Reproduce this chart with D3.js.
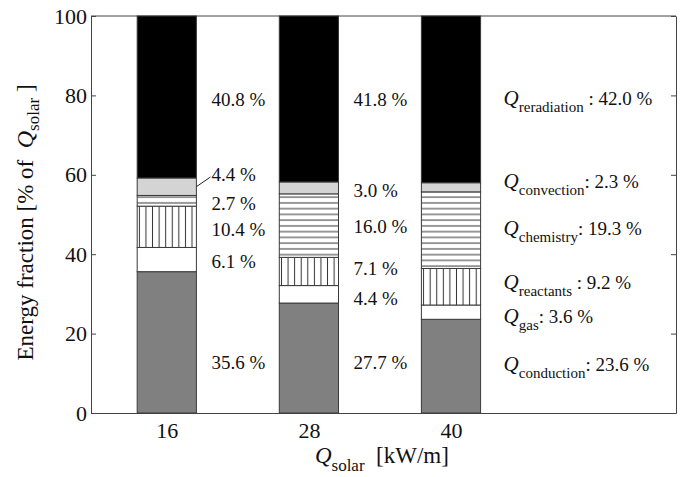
<!DOCTYPE html>
<html>
<head>
<meta charset="utf-8">
<script src="https://cdn.jsdelivr.net/npm/d3@7"></script>
<style>
  body { margin: 0; background: #fff; }
  text { font-family: "Liberation Serif", "Times New Roman", serif; fill: #111; }
</style>
</head>
<body>
<svg id="chart" width="686" height="477"></svg>
<script>
// Q_solar values (kW/m) and energy fractions (% of Q_solar), bottom to top
const qSolar = [16, 28, 40];
const keys = ["conduction", "gas", "reactants", "chemistry", "convection", "reradiation"];
const conduction = [35.6, 27.7, 23.6];
const gas = [6.1, 4.4, 3.6];
const reactants = [10.4, 7.1, 9.2];
const chemistry = [2.7, 16.0, 19.3];
const convection = [4.4, 3.0, 2.3];
const reradiation = [40.8, 41.8, 42.0];
const yTicks = [0, 20, 40, 60, 80, 100];
const xTicks = [16, 28, 40];

// level (in % of Q_solar) at which each label is written, per bar, same order as keys
const labelLevels = [
  [12.8, 38.3, 46.3, 52.9, 60.2, 79.1],
  [12.8, 29.0, 36.5, 46.9, 56.2, 79.1],
  [12.3, 24.4, 33.0, 46.6, 58.4, 79.3]
];

const series = { conduction, gas, reactants, chemistry, convection, reradiation };
const rows = qSolar.map((q, i) => {
  const r = { q, i };
  keys.forEach(k => r[k] = series[k][i]);
  return r;
});

const svg = d3.select("#chart");
const margin = { top: 16, right: 10, bottom: 64, left: 91 };
const W = 686, H = 477;
const plotW = W - margin.left - margin.right;
const plotH = H - margin.top - margin.bottom;

const x = d3.scaleLinear().domain([9.6, 59]).range([0, plotW]);
const y = d3.scaleLinear().domain([0, 100]).range([plotH, 0]);
const barW = x(21) - x(16);

const g = svg.append("g").attr("transform", `translate(${margin.left},${margin.top})`);

const fills = {
  conduction: "#808080",
  gas: "#ffffff",
  convection: "#d4d4d4",
  reradiation: "#000000"
};

// hatch patterns, one per bar so the lines line up with the bar edges
const defs = svg.append("defs");
rows.forEach(r => {
  const left = margin.left + x(r.q) - barW / 2;
  const vp = defs.append("pattern")
    .attr("id", "vhatch" + r.i)
    .attr("patternUnits", "userSpaceOnUse")
    .attr("x", left).attr("y", 0)
    .attr("width", barW / 9).attr("height", 10);
  vp.append("rect").attr("width", barW / 9).attr("height", 10).attr("fill", "#fff");
  vp.append("line")
    .attr("x1", barW / 18).attr("x2", barW / 18)
    .attr("y1", 0).attr("y2", 10)
    .attr("stroke", "#333").attr("stroke-width", 1);
});
const hp = defs.append("pattern")
  .attr("id", "hhatch")
  .attr("patternUnits", "userSpaceOnUse")
  .attr("width", 10).attr("height", 5.75);
hp.append("rect").attr("width", 10).attr("height", 5.75).attr("fill", "#fff");
hp.append("line")
  .attr("x1", 0).attr("x2", 10)
  .attr("y1", 2.9).attr("y2", 2.9)
  .attr("stroke", "#333").attr("stroke-width", 1);

function fillFor(key, i) {
  if (key === "reactants") return `url(#vhatch${i})`;
  if (key === "chemistry") return "url(#hhatch)";
  return fills[key];
}

// axes (inward ticks)
g.append("g")
  .call(d3.axisLeft(y).tickValues(yTicks).tickSizeInner(-5).tickSizeOuter(0).tickPadding(4))
  .call(a => a.selectAll("text").style("font-size", "22px").attr("fill", "#111"))
  .call(a => a.selectAll("line,path").attr("stroke", "#444"));

g.append("g")
  .attr("transform", `translate(${plotW},0)`)
  .call(d3.axisRight(y).tickValues(yTicks).tickSizeInner(-5).tickSizeOuter(0).tickFormat(""))
  .call(a => a.selectAll("line,path").attr("stroke", "#444"));

g.append("g")
  .attr("transform", `translate(0,${plotH})`)
  .call(d3.axisBottom(x).tickValues(xTicks).tickSizeInner(-5).tickSizeOuter(0).tickPadding(9))
  .call(a => a.selectAll("text").style("font-size", "22px").attr("fill", "#111"))
  .call(a => a.selectAll("line,path").attr("stroke", "#444"));

g.append("line")
  .attr("x1", 0).attr("x2", plotW).attr("y1", 0).attr("y2", 0)
  .attr("stroke", "#444");

// stacked bars
const stacked = d3.stack().keys(keys)(rows);
g.selectAll("g.layer")
  .data(stacked)
  .join("g")
  .attr("class", "layer")
  .selectAll("rect")
  .data(d => d.map(s => ({ key: d.key, s })))
  .join("rect")
  .attr("x", d => x(d.s.data.q) - barW / 2)
  .attr("width", barW)
  .attr("y", d => y(d.s[1]))
  .attr("height", d => y(d.s[0]) - y(d.s[1]))
  .attr("fill", d => fillFor(d.key, d.s.data.i))
  .attr("stroke", "#3a3a3a")
  .attr("stroke-width", 1);

// percentage labels for the first two bars
rows.slice(0, 2).forEach(r => {
  const lx = x(r.q) + barW / 2 + 15;
  keys.forEach((k, j) => {
    g.append("text")
      .attr("x", lx)
      .attr("y", y(labelLevels[r.i][j]))
      .attr("dy", "0.35em")
      .style("font-size", "19px")
      .text(r[k].toFixed(1) + " %");
  });
});

// leader line for the small convection slice of the first bar
{
  const r = rows[0];
  const seg = stacked[keys.indexOf("convection")][0];
  g.append("line")
    .attr("x1", x(r.q) + barW / 2)
    .attr("y1", y((seg[0] + seg[1]) / 2))
    .attr("x2", x(r.q) + barW / 2 + 14)
    .attr("y2", y(labelLevels[0][4]) + 3)
    .attr("stroke", "#222").attr("stroke-width", 1);
}

// named labels for the last bar
{
  const r = rows[2];
  const lx = x(r.q) + barW / 2 + 23;
  keys.forEach((k, j) => {
    const t = g.append("text")
      .attr("x", lx)
      .attr("y", y(labelLevels[2][j]))
      .attr("dy", "0.35em")
      .style("font-size", "19px");
    t.append("tspan").style("font-style", "italic").style("font-size", "21px").text("Q");
    t.append("tspan").attr("dy", 7).style("font-size", "15px").text(k);
    t.append("tspan").attr("dy", -7)
      .text((k === "reradiation" || k === "reactants" ? " " : "") + ": " + r[k].toFixed(1) + " %");
  });
}

// axis titles
{
  const t = svg.append("text")
    .attr("transform", `translate(33,${margin.top + y(48)}) rotate(-90)`)
    .attr("text-anchor", "middle")
    .style("font-size", "23px");
  t.append("tspan").text("Energy fraction [% of\u00a0\u00a0");
  t.append("tspan").style("font-style", "italic").style("font-size", "24px").text("Q");
  t.append("tspan").attr("dy", 6).style("font-size", "17px").text("solar");
  t.append("tspan").attr("dy", -6).text("\u00a0]");
}
{
  const t = svg.append("text")
    .attr("x", margin.left + x(28) + 73)
    .attr("y", 463)
    .attr("text-anchor", "middle")
    .style("font-size", "23px");
  t.append("tspan").style("font-style", "italic").style("font-size", "23px").text("Q");
  t.append("tspan").attr("dy", 8).style("font-size", "17px").text("solar");
  t.append("tspan").attr("dy", -8).text("\u00a0\u00a0[kW/m]");
}
</script>
</body>
</html>
